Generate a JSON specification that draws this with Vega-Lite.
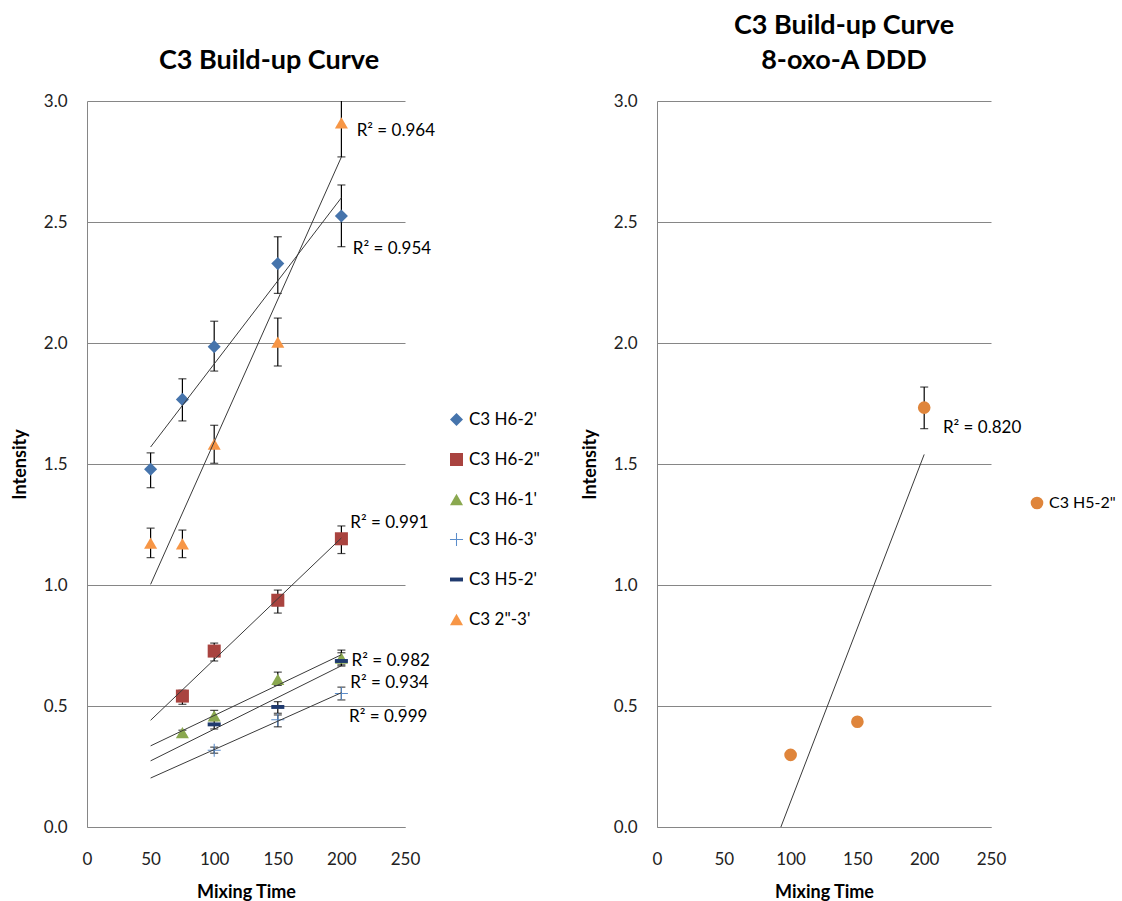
{
  "$schema": "https://vega.github.io/schema/vega-lite/v6.json",
  "padding": {"left": 11, "top": 12, "right": 0, "bottom": 0},
  "bounds": "flush",
  "spacing": 252,
  "config": {
    "font": "Lato",
    "view": {"stroke": null},
    "scale": {"continuousPadding": 0},
    "title": {"fontSize": 27, "fontWeight": "bold", "color": "#000000", "offset": 17, "lineHeight": 35},
    "axis": {
      "labelFontSize": 17, "labelColor": "#222222", "titleFontSize": 18, "titleFontWeight": "bold",
      "titleColor": "#000000", "domainColor": "#868686", "gridColor": "#868686", "ticks": false, "labelFlush": false
    },
    "axisX": {"grid": false, "labelPadding": 24, "titlePadding": 16},
    "axisY": {"grid": true, "labelPadding": 20, "titlePadding": 14},
    "legend": {"labelFontSize": 17, "labelColor": "#000000", "title": null, "orient": "none", "rowPadding": 22, "symbolStrokeWidth": 0}
  },
  "datasets": {
    "left": [
      {"series": "C3 H6-2'", "t": 50, "y": 1.478, "lo": 1.402, "hi": 1.546},
      {"series": "C3 H6-2'", "t": 75, "y": 1.767, "lo": 1.678, "hi": 1.852},
      {"series": "C3 H6-2'", "t": 100, "y": 1.985, "lo": 1.884, "hi": 2.09},
      {"series": "C3 H6-2'", "t": 150, "y": 2.328, "lo": 2.205, "hi": 2.439},
      {"series": "C3 H6-2'", "t": 200, "y": 2.525, "lo": 2.398, "hi": 2.653},
      {"series": "C3 H6-2\"", "t": 75, "y": 0.541, "lo": 0.507, "hi": 0.565},
      {"series": "C3 H6-2\"", "t": 100, "y": 0.727, "lo": 0.686, "hi": 0.76},
      {"series": "C3 H6-2\"", "t": 150, "y": 0.937, "lo": 0.884, "hi": 0.979},
      {"series": "C3 H6-2\"", "t": 200, "y": 1.191, "lo": 1.13, "hi": 1.244},
      {"series": "C3 H6-1'", "t": 75, "y": 0.39, "lo": 0.38, "hi": 0.4},
      {"series": "C3 H6-1'", "t": 100, "y": 0.459, "lo": 0.44, "hi": 0.482},
      {"series": "C3 H6-1'", "t": 150, "y": 0.61, "lo": 0.585, "hi": 0.64},
      {"series": "C3 H6-1'", "t": 200, "y": 0.698, "lo": 0.67, "hi": 0.731},
      {"series": "C3 H6-3'", "t": 100, "y": 0.317, "lo": 0.305, "hi": 0.33},
      {"series": "C3 H6-3'", "t": 150, "y": 0.443, "lo": 0.414, "hi": 0.463},
      {"series": "C3 H6-3'", "t": 200, "y": 0.552, "lo": 0.525, "hi": 0.578},
      {"series": "C3 H5-2'", "t": 100, "y": 0.424, "lo": 0.405, "hi": 0.44},
      {"series": "C3 H5-2'", "t": 150, "y": 0.496, "lo": 0.47, "hi": 0.518},
      {"series": "C3 H5-2'", "t": 200, "y": 0.686, "lo": 0.665, "hi": 0.72},
      {"series": "C3 2\"-3'", "t": 50, "y": 1.173, "lo": 1.113, "hi": 1.235},
      {"series": "C3 2\"-3'", "t": 75, "y": 1.17, "lo": 1.113, "hi": 1.227},
      {"series": "C3 2\"-3'", "t": 100, "y": 1.582, "lo": 1.503, "hi": 1.66},
      {"series": "C3 2\"-3'", "t": 150, "y": 2.004, "lo": 1.905, "hi": 2.103},
      {"series": "C3 2\"-3'", "t": 200, "y": 2.91, "lo": 2.769, "hi": 3.05}
    ],
    "leftLabels": [
      {"t": 212, "y": 2.876, "text": "R² = 0.964"},
      {"t": 209, "y": 2.388, "text": "R² = 0.954"},
      {"t": 207, "y": 1.256, "text": "R² = 0.991"},
      {"t": 208, "y": 0.686, "text": "R² = 0.982"},
      {"t": 207, "y": 0.595, "text": "R² = 0.934"},
      {"t": 206, "y": 0.455, "text": "R² = 0.999"}
    ],
    "right": [
      {"series": "C3 H5-2\"", "t": 100, "y": 0.298, "lo": 0.29, "hi": 0.305},
      {"series": "C3 H5-2\"", "t": 150, "y": 0.435, "lo": 0.425, "hi": 0.445},
      {"series": "C3 H5-2\"", "t": 200, "y": 1.733, "lo": 1.646, "hi": 1.818}
    ],
    "rightLabels": [
      {"t": 214, "y": 1.649, "text": "R² = 0.820"}
    ]
  },
  "resolve": {
    "scale": {"color": "independent", "shape": "independent", "x": "independent", "y": "independent"},
    "legend": {"color": "independent", "shape": "independent"}
  },
  "hconcat": [
    {
      "width": 318,
      "height": 726,
      "title": {"text": "C3 Build-up Curve", "dx": 23},
      "layer": [
        {
          "data": {"name": "left"},
          "mark": {"type": "rule", "color": "#000000", "strokeWidth": 1.2, "clip": true},
          "encoding": {
            "x": {"field": "t", "type": "quantitative", "title": "Mixing Time", "scale": {"domain": [0, 250], "padding": 0, "nice": false}, "axis": {"values": [0, 50, 100, 150, 200, 250]}},
            "y": {"field": "lo", "type": "quantitative", "title": "Intensity", "scale": {"domain": [0, 3], "padding": 0, "nice": false}, "axis": {"values": [0, 0.5, 1, 1.5, 2, 2.5, 3], "format": ".1f"}},
            "y2": {"field": "hi"}
          }
        },
        {
          "data": {"name": "left"},
          "mark": {"type": "tick", "orient": "horizontal", "color": "#000000", "size": 8, "thickness": 1.2, "clip": true},
          "encoding": {
            "x": {"field": "t", "type": "quantitative", "title": "Mixing Time", "axis": {"values": [0, 50, 100, 150, 200, 250]}},
            "y": {"field": "lo", "type": "quantitative", "title": "Intensity", "axis": {"values": [0, 0.5, 1, 1.5, 2, 2.5, 3], "format": ".1f"}}
          }
        },
        {
          "data": {"name": "left"},
          "mark": {"type": "tick", "orient": "horizontal", "color": "#000000", "size": 8, "thickness": 1.2, "clip": true},
          "encoding": {
            "x": {"field": "t", "type": "quantitative", "title": "Mixing Time", "axis": {"values": [0, 50, 100, 150, 200, 250]}},
            "y": {"field": "hi", "type": "quantitative", "title": "Intensity", "axis": {"values": [0, 0.5, 1, 1.5, 2, 2.5, 3], "format": ".1f"}}
          }
        },
        {
          "data": {"name": "left"},
          "mark": {"type": "point", "filled": true, "opacity": 1, "size": 170},
          "encoding": {
            "x": {"field": "t", "type": "quantitative", "title": "Mixing Time", "axis": {"values": [0, 50, 100, 150, 200, 250]}},
            "y": {"field": "y", "type": "quantitative", "title": "Intensity", "axis": {"values": [0, 0.5, 1, 1.5, 2, 2.5, 3], "format": ".1f"}},
            "color": {
              "field": "series", "type": "nominal",
              "scale": {
                "domain": ["C3 H6-2'", "C3 H6-2\"", "C3 H6-1'", "C3 H6-3'", "C3 H5-2'", "C3 2\"-3'"],
                "range": ["#4674AC", "#A9433F", "#8AA84F", "#5B8DCB", "#1F3A6E", "#F79646"]
              },
              "legend": {"legendX": 361, "legendY": 310, "symbolSize": 170}
            },
            "shape": {
              "field": "series", "type": "nominal",
              "scale": {
                "domain": ["C3 H6-2'", "C3 H6-2\"", "C3 H6-1'", "C3 H6-3'", "C3 H5-2'", "C3 2\"-3'"],
                "range": ["diamond", "square", "triangle-up", "M-1,-0.08H1V0.08H-1Z M-0.08,-1H0.08V1H-0.08Z", "M-1,-0.3H1V0.3H-1Z", "triangle-up"]
              },
              "legend": {"legendX": 361, "legendY": 310, "symbolSize": 170}
            }
          }
        },
        {
          "data": {"name": "left"},
          "transform": [{"regression": "y", "on": "t", "groupby": ["series"], "extent": [50, 200]}],
          "mark": {"type": "line", "color": "#3A3A3A", "strokeWidth": 1, "clip": true},
          "encoding": {
            "x": {"field": "t", "type": "quantitative", "title": "Mixing Time", "axis": {"values": [0, 50, 100, 150, 200, 250]}},
            "y": {"field": "y", "type": "quantitative", "title": "Intensity", "axis": {"values": [0, 0.5, 1, 1.5, 2, 2.5, 3], "format": ".1f"}},
            "detail": {"field": "series", "type": "nominal"}
          }
        },
        {
          "data": {"name": "leftLabels"},
          "mark": {"type": "text", "align": "left", "baseline": "middle", "fontSize": 17, "color": "#000000"},
          "encoding": {
            "x": {"field": "t", "type": "quantitative", "title": "Mixing Time", "axis": {"values": [0, 50, 100, 150, 200, 250]}},
            "y": {"field": "y", "type": "quantitative", "title": "Intensity", "axis": {"values": [0, 0.5, 1, 1.5, 2, 2.5, 3], "format": ".1f"}},
            "text": {"field": "text", "type": "nominal"}
          }
        }
      ]
    },
    {
      "width": 334,
      "height": 726,
      "title": {"text": ["C3 Build-up Curve", "8-oxo-A DDD"], "dx": 20},
      "layer": [
        {
          "data": {"name": "right"},
          "mark": {"type": "rule", "color": "#000000", "strokeWidth": 1.2, "clip": true},
          "encoding": {
            "x": {"field": "t", "type": "quantitative", "title": "Mixing Time", "scale": {"domain": [0, 250], "padding": 0, "nice": false}, "axis": {"values": [0, 50, 100, 150, 200, 250]}},
            "y": {"field": "lo", "type": "quantitative", "title": "Intensity", "scale": {"domain": [0, 3], "padding": 0, "nice": false}, "axis": {"values": [0, 0.5, 1, 1.5, 2, 2.5, 3], "format": ".1f"}},
            "y2": {"field": "hi"}
          }
        },
        {
          "data": {"name": "right"},
          "mark": {"type": "tick", "orient": "horizontal", "color": "#000000", "size": 8, "thickness": 1.2, "clip": true},
          "encoding": {
            "x": {"field": "t", "type": "quantitative", "title": "Mixing Time", "axis": {"values": [0, 50, 100, 150, 200, 250]}},
            "y": {"field": "lo", "type": "quantitative", "title": "Intensity", "axis": {"values": [0, 0.5, 1, 1.5, 2, 2.5, 3], "format": ".1f"}}
          }
        },
        {
          "data": {"name": "right"},
          "mark": {"type": "tick", "orient": "horizontal", "color": "#000000", "size": 8, "thickness": 1.2, "clip": true},
          "encoding": {
            "x": {"field": "t", "type": "quantitative", "title": "Mixing Time", "axis": {"values": [0, 50, 100, 150, 200, 250]}},
            "y": {"field": "hi", "type": "quantitative", "title": "Intensity", "axis": {"values": [0, 0.5, 1, 1.5, 2, 2.5, 3], "format": ".1f"}}
          }
        },
        {
          "data": {"name": "right"},
          "mark": {"type": "point", "filled": true, "opacity": 1, "size": 160, "shape": "circle"},
          "encoding": {
            "x": {"field": "t", "type": "quantitative", "title": "Mixing Time", "axis": {"values": [0, 50, 100, 150, 200, 250]}},
            "y": {"field": "y", "type": "quantitative", "title": "Intensity", "axis": {"values": [0, 0.5, 1, 1.5, 2, 2.5, 3], "format": ".1f"}},
            "color": {
              "field": "series", "type": "nominal",
              "scale": {"domain": ["C3 H5-2\""], "range": ["#DF853B"]},
              "legend": {"legendX": 372, "legendY": 394, "symbolSize": 160, "symbolType": "circle", "labelFontSize": 16}
            }
          }
        },
        {
          "data": {"name": "right"},
          "transform": [{"regression": "y", "on": "t", "groupby": ["series"], "extent": [50, 200]}],
          "mark": {"type": "line", "color": "#3A3A3A", "strokeWidth": 1, "clip": true},
          "encoding": {
            "x": {"field": "t", "type": "quantitative", "title": "Mixing Time", "axis": {"values": [0, 50, 100, 150, 200, 250]}},
            "y": {"field": "y", "type": "quantitative", "title": "Intensity", "axis": {"values": [0, 0.5, 1, 1.5, 2, 2.5, 3], "format": ".1f"}},
            "detail": {"field": "series", "type": "nominal"}
          }
        },
        {
          "data": {"name": "rightLabels"},
          "mark": {"type": "text", "align": "left", "baseline": "middle", "fontSize": 17, "color": "#000000"},
          "encoding": {
            "x": {"field": "t", "type": "quantitative", "title": "Mixing Time", "axis": {"values": [0, 50, 100, 150, 200, 250]}},
            "y": {"field": "y", "type": "quantitative", "title": "Intensity", "axis": {"values": [0, 0.5, 1, 1.5, 2, 2.5, 3], "format": ".1f"}},
            "text": {"field": "text", "type": "nominal"}
          }
        }
      ]
    }
  ]
}
